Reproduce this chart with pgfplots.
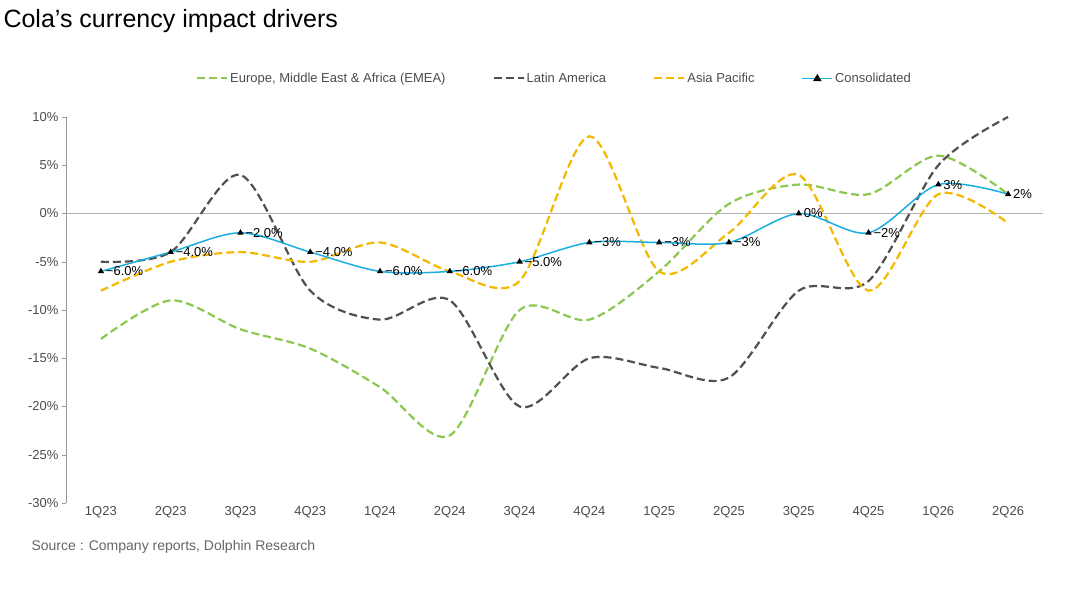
\documentclass[border=0pt]{standalone}
\usepackage{pgfplots}
\pgfplotsset{compat=1.18}
\usepackage{fontspec}
\setmainfont{Liberation Sans}
\definecolor{cg}{HTML}{8CC850}
\definecolor{cd}{HTML}{505050}
\definecolor{cy}{HTML}{F5B800}
\definecolor{cb}{HTML}{1AAFE0}
\begin{document}
\begin{tikzpicture}[x=1pt,y=1pt]
\path[fill=white] (0,0) rectangle (1080,595);
\node[anchor=west,font=\fontsize{25}{27}\selectfont] at (0,574) {Cola's currency impact drivers};
\node[anchor=west,font=\fontsize{14}{16}\selectfont,text=black!60] at (30,548) {};
\node[anchor=west,font=\fontsize{14}{16}\selectfont,text=black!60] at (28,48) {Source : Company reports, Dolphin Research};
\begin{axis}[at={(66pt,92pt)},anchor=south west,scale only axis,width=977pt,height=386pt,
 xmin=-0.5,xmax=13.5,ymin=-30,ymax=10,
 xtick={0,...,13},xticklabels={1Q23,2Q23,3Q23,4Q23,1Q24,2Q24,3Q24,4Q24,1Q25,2Q25,3Q25,4Q25,1Q26,2Q26},
 ytick={-30,-25,...,10},yticklabel={\pgfmathprintnumber{\tick}\%},
 /pgf/number format/assume math mode=true,
 ticklabel style={font=\fontsize{13}{15}\selectfont,text=black!70},
 axis x line*=bottom, axis y line*=left,
 x axis line style={draw=none}, xtick style={draw=none},
 y axis line style={black!40}, ytick style={black!40},ytick align=outside,major tick length=4pt,
 legend style={at={(0.5,1.10)},anchor=center,draw=none,legend columns=4,font=\fontsize{13}{15}\selectfont,text=black!70,/tikz/every even column/.append style={column sep=45pt}},
 legend image code/.code={\draw[#1] (0pt,0pt) -- (30pt,0pt);},
 clip=false]
\draw[black!30] (axis cs:-0.5,0) -- (axis cs:13.5,0);
\addplot[cg,dashed,dash pattern=on 8pt off 4pt,line width=2.2pt,smooth] coordinates {(0,-13)(1,-9)(2,-12)(3,-14)(4,-18)(5,-23)(6,-10)(7,-11)(8,-6)(9,1)(10,3)(11,2)(12,6)(13,2)};
\addlegendentry{Europe, Middle East \& Africa (EMEA)}
\addplot[cd,dashed,dash pattern=on 8pt off 4pt,line width=2.2pt,smooth] coordinates {(0,-5)(1,-4)(2,4)(3,-8)(4,-11)(5,-9)(6,-20)(7,-15)(8,-16)(9,-17)(10,-8)(11,-7)(12,5)(13,10)};
\addlegendentry{Latin America}
\addplot[cy,dashed,dash pattern=on 8pt off 4pt,line width=2.2pt,smooth] coordinates {(0,-8)(1,-5)(2,-4)(3,-5)(4,-3)(5,-6)(6,-7)(7,8)(8,-6)(9,-2)(10,4)(11,-8)(12,2)(13,-1)};
\addlegendentry{Asia Pacific}
\addplot[cb,line width=1.5pt,smooth,mark=triangle*,mark options={black,solid,scale=1.1},
 legend image code/.code={\draw[cb,line width=1.5pt] (0pt,0pt) -- (30pt,0pt); \fill[black] (15pt,0pt) ++(0,3pt) -- ++(-3pt,-5pt) -- ++(6pt,0) -- cycle;},
 nodes near coords,point meta=explicit symbolic,
 every node near coord/.append style={anchor=west,font=\fontsize{13}{15}\selectfont,text=black,xshift=1pt}] table[meta=l] {
x y l
0 -6 −6.0\%
1 -4 −4.0\%
2 -2 −2.0\%
3 -4 −4.0\%
4 -6 −6.0\%
5 -6 −6.0\%
6 -5 −5.0\%
7 -3 −3\%
8 -3 −3\%
9 -3 −3\%
10 0 0\%
11 -2 −2\%
12 3 3\%
13 2 2\%
};
\addlegendentry{Consolidated}
\end{axis}
\end{tikzpicture}
\end{document}
